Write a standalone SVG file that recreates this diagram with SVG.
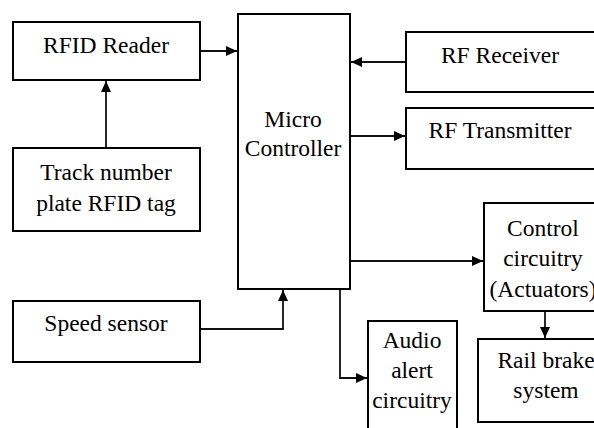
<svg xmlns="http://www.w3.org/2000/svg" width="594" height="428" viewBox="0 0 594 428">
<style>
.box{fill:#fff;stroke:#000;stroke-width:2}
.t{font-size:23.5px;fill:#000;text-anchor:middle}
.c{fill:none;stroke:#111;stroke-width:1.8}
</style>
<defs>
<marker id="ah" markerUnits="userSpaceOnUse" markerWidth="12" markerHeight="10" refX="11" refY="5" orient="auto">
<path d="M0,0 L11,5 L0,10 z" fill="#000"/>
</marker>
</defs>
<rect width="594" height="428" fill="#fff"/>
<g id="connectors">
<path class="c" d="M200,51 H237" marker-end="url(#ah)"/>
<path class="c" d="M106,148 V81" marker-end="url(#ah)"/>
<path class="c" d="M406,62 H351" marker-end="url(#ah)"/>
<path class="c" d="M350,136 H405" marker-end="url(#ah)"/>
<path class="c" d="M350,261 H483" marker-end="url(#ah)"/>
<path class="c" d="M545,311 V338" marker-end="url(#ah)"/>
<path class="c" d="M340,289 V378 H367" marker-end="url(#ah)"/>
<path class="c" d="M200,329 H283 V290" marker-end="url(#ah)"/>
</g>
<g font-family="Liberation Serif, Times New Roman, serif">
<g id="rfid-reader">
<rect class="box" x="13" y="22" width="187" height="58"/>
<text class="t" x="106" y="53">RFID Reader</text>
</g>
<g id="track-tag">
<rect class="box" x="13" y="148" width="187" height="83"/>
<text class="t" x="106" y="180">Track number</text>
<text class="t" x="106" y="211">plate RFID tag</text>
</g>
<g id="speed-sensor">
<rect class="box" x="13" y="301" width="187" height="61"/>
<text class="t" x="106" y="331">Speed sensor</text>
</g>
<g id="micro-controller">
<rect class="box" x="238" y="14" width="112" height="275"/>
<text class="t" x="293" y="127">Micro</text>
<text class="t" x="293" y="156">Controller</text>
</g>
<g id="rf-receiver">
<rect class="box" x="406" y="32" width="200" height="60"/>
<text class="t" x="500" y="63">RF Receiver</text>
</g>
<g id="rf-transmitter">
<rect class="box" x="406" y="108" width="200" height="61"/>
<text class="t" x="500" y="138">RF Transmitter</text>
</g>
<g id="control-circuitry">
<rect class="box" x="484" y="203" width="122" height="108"/>
<text class="t" x="543" y="236">Control</text>
<text class="t" x="543" y="266">circuitry</text>
<text class="t" x="543" y="297">(Actuators)</text>
</g>
<g id="rail-brake">
<rect class="box" x="478" y="339" width="136" height="83"/>
<text class="t" x="546" y="368">Rail brake</text>
<text class="t" x="546" y="398">system</text>
</g>
<g id="audio-alert">
<rect class="box" x="368" y="321" width="89" height="120"/>
<text class="t" x="412" y="348">Audio</text>
<text class="t" x="412" y="378">alert</text>
<text class="t" x="412" y="408">circuitry</text>
</g>
</g>
</svg>
